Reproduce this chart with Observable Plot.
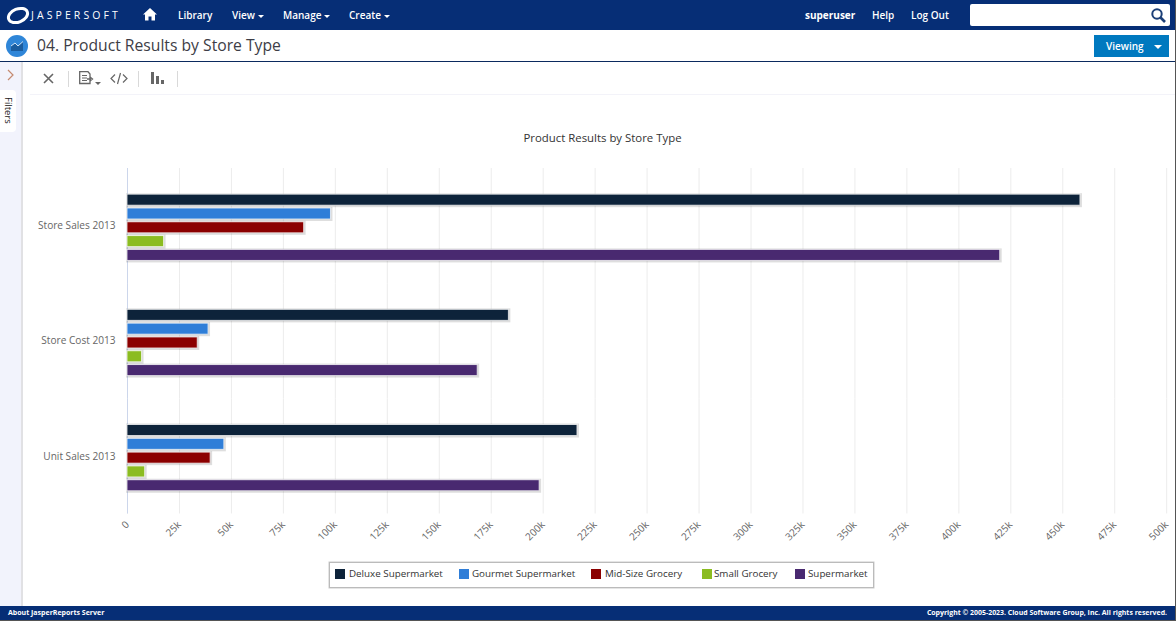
<!DOCTYPE html>
<html><head><meta charset="utf-8">
<script src="https://cdn.jsdelivr.net/npm/d3@7"></script>
<script src="https://cdn.jsdelivr.net/npm/@observablehq/plot@0.6"></script>
<style>
html,body{margin:0;padding:0;background:#fff;overflow:hidden}
#page{position:relative;width:1176px;height:621px;overflow:hidden;font-family:"Open Sans","Noto Sans",sans-serif;color:#333}
#page>*{position:absolute}
.nav{color:#fff;font-size:10px;font-weight:600;top:8px;line-height:14px;white-space:nowrap}
.caret{display:inline-block;width:0;height:0;border:3px solid transparent;border-top:3px solid #fff;border-bottom:0;margin-left:3px;vertical-align:middle}
#legend{left:329px;top:562px;width:543px;height:24px;border:1px solid #bbb;box-shadow:0 0 0 .5px #ccc;background:#fff}
.sw{position:absolute;top:6px;width:10px;height:10px}
.lb{position:absolute;top:3px;font-size:9.8px;line-height:15px;color:#333;white-space:nowrap}
.sep{background:#d9d9d9;width:1px;height:16px;top:71px}
svg text{font-family:"Open Sans","Noto Sans",sans-serif}
</style></head><body>
<div id="page">
  <div style="left:0;top:0;width:1176px;height:30px;background:#062e76"></div>
  <svg style="left:6px;top:3px" width="24" height="24" viewBox="0 0 24 24"><ellipse cx="12" cy="12.5" rx="10" ry="6.5" transform="rotate(-22 12 12.5)" fill="none" stroke="#fff" stroke-width="3"/></svg>
  <div class="nav" style="left:31px;font-weight:400;letter-spacing:3.1px;font-size:10.5px">JASPERSOFT</div>
  <svg style="left:143px;top:8px" width="14" height="13" viewBox="0 0 14 13"><path d="M7 0 L14 6.5 H12 V12.5 H8.5 V8.5 H5.5 V12.5 H2 V6.5 H0 Z" fill="#fff"/></svg>
  <div class="nav" style="left:178px">Library</div>
  <div class="nav" style="left:232px">View<span class="caret"></span></div>
  <div class="nav" style="left:283px">Manage<span class="caret"></span></div>
  <div class="nav" style="left:349px">Create<span class="caret"></span></div>
  <div class="nav" style="left:805px;font-weight:700">superuser</div>
  <div class="nav" style="left:872px">Help</div>
  <div class="nav" style="left:911px">Log Out</div>
  <div style="left:970px;top:4px;width:200px;height:22px;background:#fff;border-radius:2px"></div>
  <svg style="left:1150px;top:7px" width="16" height="16" viewBox="0 0 16 16"><circle cx="7" cy="7" r="4.7" fill="none" stroke="#1c3f78" stroke-width="2"/><path d="M10.5 10.5 L15 15" stroke="#1c3f78" stroke-width="2.6"/></svg>

  <div style="left:0;top:61px;width:1176px;height:1px;background:#0b2a5e"></div>
  <svg style="left:6px;top:35px" width="22" height="22" viewBox="0 0 22 22"><circle cx="11" cy="11" r="11" fill="#2f86d8"/><path d="M5 16 V11 L9 8 L12 11 L17 6.5 V16 Z" fill="#1a5c9e"/><path d="M5 11 L9 8 L12 11 L17 6.5" fill="none" stroke="#cfe4f7" stroke-width="1"/></svg>
  <div style="left:37px;top:34px;font-size:15.7px;line-height:23px;color:#3d3d46;white-space:nowrap">04. Product Results by Store Type</div>
  <div style="left:1094px;top:35px;width:75px;height:22px;background:#0079bf;color:#fff;font-size:10px;font-weight:600;line-height:22px"><span style="margin-left:12px">Viewing</span><span class="caret" style="margin-left:10px;border-width:4px;border-top-width:4px"></span></div>

  <div style="left:0;top:62px;width:21px;height:544px;background:#f2f3fc;border-right:2px solid #e1e1e4"></div>
  <svg style="left:6px;top:69px" width="10" height="12" viewBox="0 0 10 12"><path d="M2 1 L7 6 L2 11" fill="none" stroke="#c58a70" stroke-width="1.2"/></svg>
  <div style="left:0;top:90px;width:16px;height:42px;background:#fff;border-radius:0 4px 4px 0"></div>
  <div style="left:2px;top:97px;font-size:9.5px;line-height:12px;color:#222;writing-mode:vertical-rl">Filters</div>

  <svg style="left:43px;top:73px" width="11" height="11" viewBox="0 0 11 11"><path d="M1 1 L10 10 M10 1 L1 10" stroke="#666" stroke-width="1.6"/></svg>
  <div class="sep" style="left:68px"></div>
  <svg style="left:79px;top:71px" width="23" height="15" viewBox="0 0 23 15"><path d="M.7.7 H9 L11 3 V12.5 H.7 Z" fill="none" stroke="#666" stroke-width="1.3"/><path d="M3 4.5 H8 M3 7 H8 M3 9.5 H8" stroke="#666"/><path d="M8 8 H12 M11 6 L13.5 8 L11 10" fill="none" stroke="#666" stroke-width="1.3"/><path d="M16 11 H22 L19 14 Z" fill="#666"/></svg>
  <svg style="left:110px;top:72px" width="18" height="13" viewBox="0 0 18 13"><path d="M5 2.5 L1 6.5 L5 10.5 M13 2.5 L17 6.5 L13 10.5 M10.5 1 L7.5 12" fill="none" stroke="#666" stroke-width="1.2"/></svg>
  <div class="sep" style="left:138px"></div>
  <svg style="left:151px;top:72px" width="13" height="12" viewBox="0 0 13 12"><path d="M0 0 H3 V12 H0 Z M5 4 H8 V12 H5 Z M10 8 H13 V12 H10 Z" fill="#666"/></svg>
  <div class="sep" style="left:177px"></div>
  <div style="left:30px;top:94px;width:1146px;height:1px;background:#f3f3f9"></div>

  <div style="left:23px;top:129px;width:1159px;text-align:center;font-size:11.4px;line-height:17px;color:#333">Product Results by Store Type</div>
  <div id="chart" style="left:23px;top:150px"></div>
  <div id="legend"></div>

  <div style="left:0;top:606px;width:1176px;height:14px;background:#062e76"></div>
  <div style="left:0;top:620px;width:1176px;height:1px;background:#555"></div>
  <div style="left:8px;top:606px;color:#fff;font-size:7px;font-weight:700;line-height:14px">About JasperReports Server</div>
  <div style="right:9px;top:606px;color:#fff;font-size:6.95px;font-weight:700;line-height:14px">Copyright © 2005-2023. Cloud Software Group, Inc. All rights reserved.</div>
  <div style="left:1175px;top:0;width:1px;height:621px;background:#555"></div>
</div>
<script>
const measures = ["Store Sales 2013", "Store Cost 2013", "Unit Sales 2013"];
const storeTypes = ["Deluxe Supermarket", "Gourmet Supermarket", "Mid-Size Grocery", "Small Grocery", "Supermarket"];
const palette = ["#0d233a", "#2f7ed8", "#8b0000", "#8bbc21", "#492970"];
const deluxe = [458500, 183500, 216500];
const gourmet = [97900, 39000, 46600];
const midSize = [85000, 33800, 40000];
const small = [17600, 7000, 8500];
const supermarket = [419900, 168500, 198300];
const xTicks = [0, 25000, 50000, 75000, 100000, 125000, 150000, 175000, 200000, 225000, 250000, 275000, 300000, 325000, 350000, 375000, 400000, 425000, 450000, 475000, 500000];

const seriesValues = [deluxe, gourmet, midSize, small, supermarket];
const rows = storeTypes.flatMap((s, i) => measures.map((m, j) => ({series: s, measure: m, value: seriesValues[i][j]})));

const chart = Plot.plot({
  width: 1152, height: 400,
  marginLeft: 104, marginRight: 8.8, marginTop: 18, marginBottom: 36.5,
  style: {background: "transparent", overflow: "visible"},
  x: {domain: [0, 500000], axis: null},
  y: {domain: storeTypes, range: [41.4, 113.2], padding: 0.2, round: false, axis: null},
  fy: {domain: measures, padding: 0, round: false, label: null},
  color: {domain: storeTypes, range: palette},
  marks: [
    Plot.gridX(xTicks, {stroke: "#ececec", strokeOpacity: 1, strokeWidth: 1}),
    Plot.ruleX([0], {stroke: "#ccd6eb", strokeWidth: 1}),
    Plot.axisX({ticks: xTicks, tickSize: 0, tickPadding: 9, tickRotate: -45, dx: 0,
      tickFormat: d => d === 0 ? "0" : d / 1000 + "k", label: null, fill: "#666", fontSize: 10}),
    Plot.axisFy({anchor: "left", tickSize: 0, tickPadding: 12, label: null, fill: "#666", fontSize: 10.1}),
    Plot.barX(rows, {x: "value", y: "series", fy: "measure", fill: "#000", fillOpacity: .16, stroke: "#000", strokeOpacity: .13, strokeWidth: 3, dx: .5, dy: .5}),
    Plot.barX(rows, {x: "value", y: "series", fy: "measure", fill: "series", stroke: "#fff", strokeWidth: 1, strokeOpacity: .75})
  ]
});
document.getElementById("chart").appendChild(chart);

const legend = d3.select("#legend");
const swatchX = [5, 129, 261, 372, 465];
const labelX = [19, 142, 275, 384, 478];
storeTypes.forEach((s, i) => {
  legend.append("div").attr("class", "sw").style("left", swatchX[i] + "px").style("background", palette[i]);
  legend.append("div").attr("class", "lb").style("left", labelX[i] + "px").text(s);
});
</script>
</body></html>
